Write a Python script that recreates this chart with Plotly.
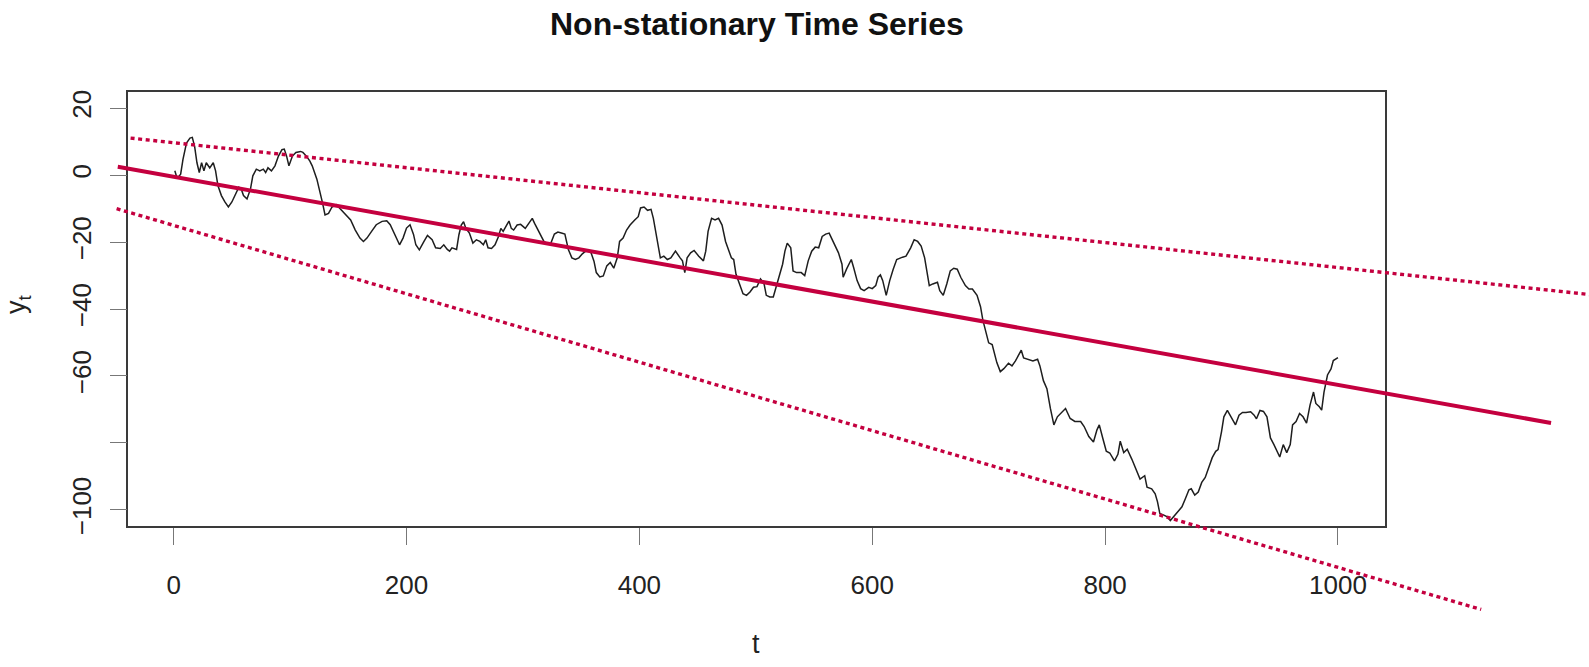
import plotly.graph_objects as go

W, H = 1589, 667

# ---- random-walk values (t, y_t) ----
t_seg1 = [1, 3, 6, 8, 11, 14, 16, 18, 20, 22, 24, 26, 28, 31, 34, 36, 38, 41, 44, 47,
          50, 53, 56, 58, 60, 63, 66, 68, 71, 74, 77, 79, 81, 84, 87, 90, 93, 95, 97, 99,
          102, 105, 109, 111, 114, 117, 119, 123, 126, 128, 130, 133, 136, 140, 143, 147, 152, 156, 160, 163,
          166, 170, 174, 179, 183, 186, 190, 194, 197, 200, 203, 206, 208, 211]
y_seg1 = [1.3, -1.0, 0.3, 4.7, 9.6, 11.1, 11.3, 8.6, 3.7, 0.8, 3.7, 1.3, 3.7, 2.2, 3.7, 1.3, -3.1, -6.1, -8.0, -9.5,
          -8.0, -5.6, -3.6, -4.1, -6.1, -7.1, -4.1, -0.2, 1.8, 1.3, 1.8, 0.8, 2.2, 1.3, 2.8, 5.7, 7.6, 7.8, 5.7, 2.8,
          5.7, 6.8, 7.1, 6.8, 5.7, 4.2, 2.8, -1.2, -5.1, -8.5, -11.9, -11.4, -9.5, -8.8, -10.0, -11.4, -13.4, -16.4, -18.8, -19.8,
          -18.8, -16.8, -14.8, -13.8, -13.6, -14.8, -17.7, -20.8, -18.8, -15.8, -14.8, -17.7, -20.8, -22.3]

t_seg2 = [215, 218, 222, 225, 229, 232, 235, 237, 239, 243, 245, 247, 249, 251, 254, 257, 260, 263, 266, 268,
          270, 273, 276, 279, 281, 283, 286, 288, 290, 292, 295, 298, 302, 305, 308, 310, 314, 318, 321, 324,
          327, 330, 333, 336, 339, 342, 345, 348, 351, 353, 356, 358, 361, 363, 366, 369, 372, 375, 378, 381,
          383, 386, 389, 392, 396, 399, 401, 404, 407, 410, 412, 415, 418, 421, 424, 427, 431]
y_seg2 = [-19.8, -18.0, -19.3, -21.7, -21.9, -20.8, -22.2, -22.7, -21.7, -22.2, -17.8, -14.9, -13.9, -15.9, -17.3, -20.3, -19.3, -19.8, -20.8, -19.3,
          -21.7, -21.9, -20.8, -18.3, -15.9, -16.8, -14.9, -13.7, -15.9, -16.4, -14.9, -14.7, -15.9, -14.4, -12.9, -14.4, -17.3, -19.8, -20.6, -20.3,
          -17.6, -17.0, -17.3, -17.6, -22.2, -24.7, -25.2, -24.7, -23.5, -22.9, -22.5, -22.7, -25.7, -29.1, -30.4, -30.1, -27.1, -26.1, -27.8, -24.7,
          -19.8, -18.8, -16.4, -14.9, -13.4, -12.4, -9.8, -9.5, -10.5, -10.2, -12.9, -18.8, -24.7, -24.2, -25.2, -24.7, -22.7]

t_seg3 = [435, 437, 439, 441, 444, 447, 451, 455, 457, 459, 462, 465, 468, 471, 474, 476, 479, 481, 483, 486,
          489, 492, 495, 498, 501, 504, 507, 509, 512, 515, 518, 520, 523, 525, 527, 530, 532, 535, 539, 542,
          545, 548, 551, 554, 557, 560, 563, 565, 568, 571, 574, 575, 578, 582, 584, 587, 590, 593, 597, 600,
          603, 605, 607, 609, 612, 615, 618, 621, 626, 629, 633, 636, 639, 642, 645, 647, 649, 652, 656]
y_seg3 = [-24.7, -25.6, -29.1, -24.7, -23.2, -22.5, -24.2, -25.6, -22.7, -16.8, -12.9, -13.4, -12.9, -14.9, -19.8, -21.7, -24.7, -25.2, -29.6, -32.5,
          -35.4, -35.9, -34.9, -33.5, -33.3, -31.0, -32.3, -35.9, -36.4, -36.4, -32.5, -30.5, -26.6, -22.7, -20.3, -21.7, -28.6, -29.1, -29.1, -30.0,
          -25.6, -22.7, -21.5, -21.7, -18.3, -17.6, -17.3, -18.8, -21.2, -23.2, -26.6, -30.5, -28.0, -25.2, -27.6, -31.5, -33.9, -34.5, -33.5, -33.9,
          -33.0, -30.5, -29.8, -31.5, -35.9, -31.5, -28.1, -25.2, -24.5, -24.2, -21.7, -19.3, -19.8, -21.2, -24.7, -29.6, -33.0, -32.5, -32.0]

t_seg4 = [658, 661, 664, 667, 670, 673, 676, 680, 683, 686, 690, 693, 695, 698, 700, 703, 705, 707, 710, 713,
          717, 720, 723, 726, 728, 730, 734, 738, 742, 744, 747, 750, 753, 756, 759, 763, 766, 770, 774, 779,
          782, 786, 790, 793, 795, 798, 801, 804, 808, 811]
y_seg4 = [-34.5, -35.9, -32.5, -28.6, -27.8, -28.1, -30.5, -33.0, -34.0, -34.0, -35.9, -39.3, -43.3, -47.2, -50.1, -50.6, -53.0, -56.0, -58.7, -57.8,
          -56.2, -57.0, -55.5, -53.6, -52.3, -54.6, -55.0, -55.5, -55.0, -57.0, -61.4, -63.8, -69.7, -74.6, -72.2, -70.7, -69.7, -72.7, -73.6, -73.6,
          -75.1, -78.1, -79.7, -76.1, -74.6, -78.6, -82.5, -83.0, -85.4, -83.4]

t_seg5 = [813, 816, 819, 823, 827, 830, 834, 836, 840, 843, 845, 847, 850, 853, 856, 859, 862, 866, 869, 872,
          874, 877, 880, 883, 886, 889, 892, 895, 897, 900, 902, 905, 908, 912, 915, 918, 921, 925, 928, 930,
          933, 936, 939, 942, 945, 948, 950, 953, 956, 959, 961, 964, 967, 970, 973, 976, 979, 981, 984, 986,
          988, 991, 994, 996, 1000]
y_seg5 = [-79.5, -82.9, -81.9, -84.9, -88.3, -90.8, -89.8, -93.2, -93.7, -95.2, -97.6, -101.1, -101.5, -102.0, -103.2, -102.0, -100.6, -99.1, -96.6, -94.0,
          -93.7, -95.6, -94.7, -91.8, -90.3, -87.4, -84.4, -82.5, -82.0, -76.6, -72.2, -70.3, -72.2, -74.6, -71.7, -70.9, -70.9, -70.7, -71.7, -72.8,
          -70.3, -70.6, -72.2, -78.5, -80.5, -82.5, -84.2, -80.5, -82.9, -80.5, -74.6, -73.6, -71.2, -72.2, -74.1, -68.7, -64.8, -68.2, -69.2, -70.2,
          -64.8, -59.7, -57.9, -55.4, -54.5]

t_vals = t_seg1 + t_seg2 + t_seg3 + t_seg4 + t_seg5
y_vals = y_seg1 + y_seg2 + y_seg3 + y_seg4 + y_seg5

# ---- straight lines (intercept, slope) and their t extents ----
trend_coef = (-0.45, -0.0622)
upper_coef = (9.70, -0.0373)
lower_coef = (-15.0, -0.1022)
trend_span = [-48, 1183]
upper_span = [-37, 1240]
lower_span = [-49, 1123]

x_ticks = [0, 200, 400, 600, 800, 1000]
y_ticks_labelled = [-100, -60, -40, -20, 0, 20]
y_ticks_unlabelled = [-80]   # R drops this label for lack of room

# ---- layout geometry ----
x_range = [-38.96, 1039.96]
y_range = [-104.8, 24.8]
box_l, box_r, box_t, box_b = 128.3, 1384.5, 91.7, 532.7
px_t = (box_r - box_l) / (x_range[1] - x_range[0])
px_y = (box_b - box_t) / (y_range[1] - y_range[0])
x2_range = [x_range[0] - box_l / px_t, x_range[1] + (W - box_r) / px_t]
y2_range = [y_range[0] - (H - box_b) / px_y, y_range[1] + box_t / px_y]

RED = "#C4003F"
FONT = "Liberation Sans, Arial, Helvetica, sans-serif"
TICK_LEN = 17
TICK_COLOR = "#777777"


def line_y(coef, span):
    return [coef[0] + coef[1] * t for t in span]


fig = go.Figure()
fig.add_trace(go.Scatter(x=t_vals, y=y_vals, mode="lines",
                         line=dict(color="#1e1e1e", width=1.5),
                         xaxis="x", yaxis="y", showlegend=False, hoverinfo="skip"))
fig.add_trace(go.Scatter(x=trend_span, y=line_y(trend_coef, trend_span), mode="lines",
                         line=dict(color=RED, width=4), xaxis="x2", yaxis="y2",
                         showlegend=False, hoverinfo="skip"))
fig.add_trace(go.Scatter(x=upper_span, y=line_y(upper_coef, upper_span), mode="lines",
                         line=dict(color=RED, width=3.4, dash="4px,3.6px"), xaxis="x2", yaxis="y2",
                         showlegend=False, hoverinfo="skip"))
fig.add_trace(go.Scatter(x=lower_span, y=line_y(lower_coef, lower_span), mode="lines",
                         line=dict(color=RED, width=3.4, dash="4px,3.6px"), xaxis="x2", yaxis="y2",
                         showlegend=False, hoverinfo="skip"))

axis_common = dict(showgrid=False, zeroline=False, showline=True, mirror=True,
                   linecolor="#3a3a3a", linewidth=1.5, ticks="outside", ticklen=TICK_LEN,
                   tickwidth=1.3, tickcolor=TICK_COLOR,
                   tickfont=dict(family=FONT, size=26, color="#222222"))

fig.update_layout(
    width=W, height=H,
    margin=dict(l=0, r=0, t=0, b=0),
    paper_bgcolor="white", plot_bgcolor="rgba(0,0,0,0)",
    xaxis=dict(domain=[box_l / W, box_r / W], range=x_range, anchor="y",
               tickvals=x_ticks, ticklabelstandoff=18, **axis_common),
    yaxis=dict(domain=[1 - box_b / H, 1 - box_t / H], range=y_range, anchor="x",
               tickvals=y_ticks_labelled, tickangle=-90, ticklabelstandoff=8,
               minor=dict(tickvals=y_ticks_unlabelled, ticks="outside", ticklen=TICK_LEN,
                          tickwidth=1.3, tickcolor=TICK_COLOR, showgrid=False),
               **axis_common),
    xaxis2=dict(domain=[0, 1], range=x2_range, anchor="y2", visible=False),
    yaxis2=dict(domain=[0, 1], range=y2_range, anchor="x2", visible=False),
    annotations=[
        dict(text="<b>Non-stationary Time Series</b>", x=756.5 / W, y=1 - 22 / H,
             xref="paper", yref="paper", xanchor="center", yanchor="middle",
             showarrow=False, font=dict(family=FONT, size=32, color="#111111")),
        dict(text="t", x=756 / W, y=1 - 653 / H, xref="paper", yref="paper",
             xanchor="center", yanchor="middle", showarrow=False,
             font=dict(family=FONT, size=27, color="#222222")),
        dict(text="y<sub>t</sub>", x=18 / W, y=1 - 307 / H, xref="paper", yref="paper",
             xanchor="center", yanchor="middle", textangle=-90, showarrow=False,
             font=dict(family=FONT, size=27, color="#222222")),
    ],
)

fig.write_html("out.html")
